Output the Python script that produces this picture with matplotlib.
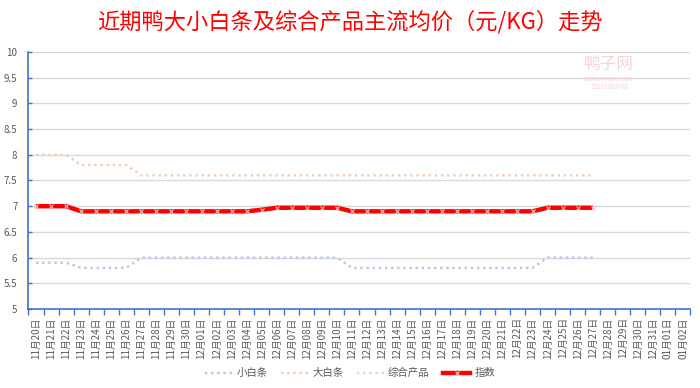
import matplotlib
matplotlib.use("Agg")
import matplotlib.pyplot as plt
from matplotlib.lines import Line2D
import numpy as np

plt.rcParams['font.family'] = ['Noto Sans CJK SC', 'DejaVu Sans']

dates = ([f"11月{d:02d}日" for d in range(20, 31)] +
         [f"12月{d:02d}日" for d in range(1, 32)] +
         ["01月01日", "01月02日"])

small = [5.9, 5.9, 5.9, 5.8, 5.8, 5.8, 5.8] + [6.0] * 14 + [5.8] * 13 + [6.0] * 4
large = [8.0, 8.0, 8.0, 7.8, 7.8, 7.8, 7.8] + [7.6] * 31
index_vals = ([7.0, 7.0, 7.0] + [6.9] * 12 + [6.93] + [6.97] * 5 +
              [6.9] * 13 + [6.97] * 4)
composite = list(index_vals)

fig = plt.figure(figsize=(7, 3.88), dpi=100)
ax = fig.add_axes([0.0407, 0.2036, 0.9457, 0.6624])

x = np.arange(len(small))
dot = (0, (1, 1.6))
ax.plot(x, composite, color='#d9d9d9', lw=1.7, ls=dot, zorder=2)
ax.plot(x, small, color='#b4c7e7', lw=1.7, ls=dot, zorder=3)
ax.plot(x, large, color='#f8cbad', lw=1.7, ls=dot, zorder=3)
ax.plot(x, index_vals, color='#ff0000', lw=3.2, zorder=4,
        marker='x', ms=3, mec='#ffc0c0', mew=0.8, solid_capstyle='butt')

ax.set_xlim(-0.5, len(dates) - 0.5)
ax.set_ylim(5, 10)
yt = np.arange(5, 10.01, 0.5)
ax.set_yticks(yt)
ax.set_yticklabels([f"{v:g}" for v in yt], fontsize=7, color='#595959')
ax.set_xticks(np.arange(len(dates)))
ax.set_xticklabels(dates, rotation=90, fontsize=7, color='#595959')
ax.set_xticks(np.arange(len(dates) + 1) - 0.5, minor=True)
ax.tick_params(axis='x', which='major', length=0, pad=6)
ax.tick_params(axis='x', which='minor', length=4, color='#4472c4', width=1, direction='out')
ax.tick_params(axis='y', length=3, color='#4472c4', width=1, direction='in', pad=8)

ax.grid(axis='y', color='#d9d9d9', lw=1)
ax.set_axisbelow(True)
for s in ['top', 'right']:
    ax.spines[s].set_visible(False)
ax.spines['left'].set_color('#4472c4')
ax.spines['bottom'].set_color('#4472c4')
ax.spines['left'].set_linewidth(1.2)
ax.spines['bottom'].set_linewidth(1.2)

fig.text(0.5, 0.945, "近期鸭大小白条及综合产品主流均价（元/KG）走势", ha='center', va='center',
         fontsize=16, color='#ff0000', fontweight='medium')

# watermark
fig.text(0.87, 0.835, "鸭子网", fontsize=12, color='#f4b6b6', alpha=0.6, ha='center', va='center')
fig.text(0.87, 0.795, "WWW.INTEDC.COM", fontsize=4, color='#f4b6b6', alpha=0.6, ha='center', va='center')
fig.text(0.87, 0.775, "15131069765", fontsize=4.5, color='#f4b6b6', alpha=0.6, ha='center', va='center')

handles = [
    Line2D([], [], color='#b4c7e7', lw=1.7, ls=dot),
    Line2D([], [], color='#f8cbad', lw=1.7, ls=dot),
    Line2D([], [], color='#d9d9d9', lw=1.7, ls=dot),
    Line2D([], [], color='#ff0000', lw=3.2, marker='x', ms=3, mec='#ffc0c0', mew=0.8),
]
labels = ["小白条", "大白条", "综合产品", "指数"]
leg = fig.legend(handles, labels, loc='center', bbox_to_anchor=(0.5, 0.038), ncol=4,
                 frameon=False, fontsize=7.5, handlelength=2.6, columnspacing=1.3,
                 handletextpad=0.4)
for t in leg.get_texts():
    t.set_color('#595959')

fig.savefig("out.png", dpi=100)
